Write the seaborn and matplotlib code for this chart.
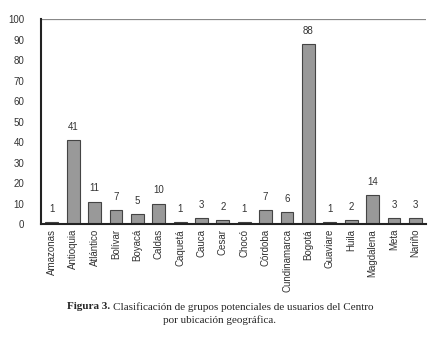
import matplotlib
matplotlib.use("Agg")
import matplotlib.pyplot as plt
import seaborn as sns
import pandas as pd

departamentos = ["Amazonas", "Antioquia", "Atlántico", "Bolívar", "Boyacá", "Caldas",
                 "Caquetá", "Cauca", "Cesar", "Chocó", "Córdoba", "Cundinamarca",
                 "Bogotá", "Guaviare", "Huila", "Magdalena", "Meta", "Nariño"]
usuarios = [1, 41, 11, 7, 5, 10, 1, 3, 2, 1, 7, 6, 88, 1, 2, 14, 3, 3]
y_ticks = [0, 10, 20, 30, 40, 50, 60, 70, 80, 90, 100]

df = pd.DataFrame({"departamento": departamentos, "usuarios": usuarios})

sns.set_style("white")
plt.rcParams['font.family'] = ['Liberation Sans', 'DejaVu Sans']

fig = plt.figure(figsize=(4.47, 3.48), dpi=100)
ax = fig.add_axes([0.092, 0.356, 0.861, 0.589])

sns.barplot(data=df, x="departamento", y="usuarios", color="#999999",
            edgecolor="#444444", linewidth=0.8, width=0.6, saturation=1, ax=ax)

for i, v in enumerate(usuarios):
    ax.text(i, v + 4, str(v), ha="center", va="bottom", fontsize=7, color="#333333")

ax.set_ylim(0, 100)
ax.set_xlim(-0.5, len(departamentos) - 0.5)
ax.set_yticks(y_ticks)
ax.set_yticklabels([str(t) for t in y_ticks], fontsize=7, color="#333333")
ax.tick_params(axis="x", labelrotation=90, labelsize=7, labelcolor="#333333", length=0)
ax.tick_params(axis="y", length=0, pad=12)
ax.set_xlabel("")
ax.set_ylabel("")

ax.axhline(100, color="#888888", linewidth=0.9)
for s in ["top", "right"]:
    ax.spines[s].set_visible(False)
ax.spines["left"].set_color("#222222")
ax.spines["left"].set_linewidth(1.5)
ax.spines["bottom"].set_color("#222222")
ax.spines["bottom"].set_linewidth(1.5)

# caption: bold "Figura 3." followed by regular text, centred as one line
cap_bold = "Figura 3. "
cap_rest = "Clasificación de grupos potenciales de usuarios del Centro"
t1 = fig.text(0, 0.118, cap_bold, family="Liberation Serif", fontweight="bold",
              fontsize=8, ha="left", va="center")
t2 = fig.text(0, 0.118, cap_rest, family="Liberation Serif",
              fontsize=8, ha="left", va="center")
r = fig.canvas.get_renderer()
w1 = t1.get_window_extent(r).width / fig.bbox.width
w2 = t2.get_window_extent(r).width / fig.bbox.width
x0 = 0.492 - (w1 + w2) / 2
t1.set_x(x0)
t2.set_x(x0 + w1)
fig.text(0.492, 0.080, "por ubicación geográfica.", family="Liberation Serif",
         fontsize=8, ha="center", va="center")

fig.savefig("out.png", dpi=100)
